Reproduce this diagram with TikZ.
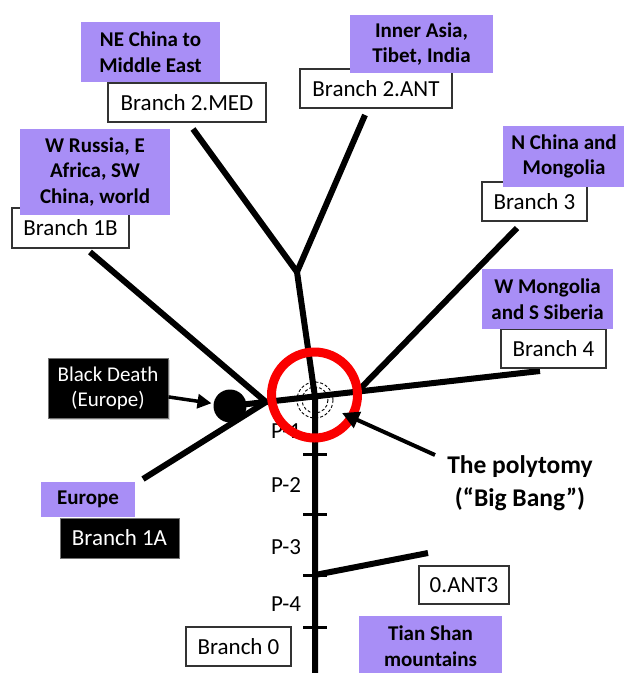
\documentclass[tikz,border=0pt]{standalone}
\usepackage{fontspec}
\setmainfont{Carlito}
\usetikzlibrary{arrows.meta,shadows}
\definecolor{lav}{RGB}{168,142,246}
\definecolor{polyred}{RGB}{250,0,0}
\begin{document}
\begin{tikzpicture}[x=1pt,y=-1pt,
  region/.style={fill=lav, inner sep=0pt, align=center, font=\fontsize{21}{25.5}\selectfont\bfseries},
  wbox/.style={draw=black!80, line width=1.2pt, fill=white, inner sep=0pt, minimum height=39pt, font=\fontsize{23}{25}\selectfont},
  bbox/.style={fill=black, draw=black!55, line width=1pt, text=white, inner sep=0pt, align=center, font=\fontsize{21}{25}\selectfont},
  limb/.style={line width=6pt, line join=round},
  tickmark/.style={line width=3pt},
  plab/.style={font=\fontsize{23}{25}\selectfont},
  pointer/.style={line width=4pt, -{Triangle[length=17pt,width=17pt]}}
]
\useasboundingbox (0,0) rectangle (624,673);
\clip (0,0) rectangle (624,673);

% tree points
\coordinate (P) at (315,397);
\coordinate (F) at (297,272);
\coordinate (B) at (315,690);
\coordinate (med) at (193,129);
\coordinate (ant) at (365,115);
\coordinate (oneB) at (90,252);
\coordinate (J) at (266,402);
\coordinate (oneA) at (143,479);
\coordinate (D) at (230,406);
\coordinate (b4) at (540,371);
\coordinate (K) at (357,392);
\coordinate (b3) at (517,228);
\coordinate (t1) at (315,454);
\coordinate (t2) at (315,514);
\coordinate (t3) at (315,575);
\coordinate (t4) at (315,627);
\coordinate (a3) at (428,553);

% tree
\draw[limb] (B) -- (P) -- (F);
\draw[limb] (med) -- (F) -- (ant);
\draw[limb] (D) -- (b4);
\draw[limb] (oneB) -- (J) -- (oneA);
\draw[limb] (K) -- (b3);
\draw[limb] (t3) -- (a3);
\foreach \t in {t1,t2,t3,t4}{
  \draw[tickmark] ([xshift=-12pt]\t) -- ([xshift=12pt]\t);
}

% white boxes
\node[wbox, minimum width=158pt] (b2med) at (187,102.5) {Branch 2.MED};
\node[wbox, minimum width=152pt] (b2ant) at (376,88.5) {Branch 2.ANT};
\node[wbox, minimum width=117pt, minimum height=40pt] (b1b) at (70.5,228) {Branch 1B};
\node[wbox, minimum width=105pt] (b3box) at (534.5,201.5) {Branch 3};
\node[wbox, minimum width=105pt] (b4box) at (553.5,348.5) {Branch 4};
\node[wbox, minimum width=90pt, minimum height=38pt] (ant3) at (464,585) {0.ANT3};
\node[wbox, minimum width=105pt] (b0) at (238.5,646.5) {Branch 0};

% purple regions
\node[region, minimum width=139pt, minimum height=60pt] (rne) at (150.5,52) {NE China to\\Middle East};
\node[region, minimum width=150pt, minimum height=86pt] (rwr) at (95,172) {W Russia, E\\Africa, SW\\China, world};
\node[region, minimum width=143pt, minimum height=58pt] (ria) at (421.5,44) {Inner Asia,\\Tibet, India};
\node[region, minimum width=122pt, minimum height=61pt] (rnc) at (564,156.5) {N China and\\Mongolia};
\node[region, minimum width=131pt, minimum height=60pt] (rwm) at (547.5,299) {W Mongolia\\and S Siberia};
\node[region, minimum width=94pt, minimum height=35pt] (reu) at (88,499.5) {Europe};
\node[region, minimum width=143pt, minimum height=60pt] (rts) at (430.5,646) {Tian Shan\\mountains};

% black boxes
\node[bbox, minimum width=120pt, minimum height=60pt, drop shadow={opacity=0.35, shadow xshift=2pt, shadow yshift=-2pt}] (bd) at (108,388) {Black Death\\(Europe)};
\node[bbox, minimum width=119pt, minimum height=40pt, font=\fontsize{23}{25}\selectfont] (b1a) at (119.5,538) {Branch 1A};

% dot
\node[circle, fill=black, minimum size=33pt, inner sep=0pt] (dot) at (D) {};

% P labels
\node[plab] (p1) at (286,431) {P-1};
\node[plab] (p2) at (286,485) {P-2};
\node[plab] (p3) at (286,547) {P-3};
\node[plab] (p4) at (286,604) {P-4};

% polytomy marks
\coordinate (pc) at (315,400);
\draw[line width=0.9pt, dash pattern=on 3pt off 2pt] (pc) circle[radius=18];
\draw[line width=0.9pt, dash pattern=on 3pt off 2pt] (pc) circle[radius=13];
\coordinate (rc) at (314.5,395);
\draw[polyred, line width=9pt] (rc) circle[radius=43];

% arrows and text
\draw[line width=3.5pt, -{Triangle[length=14pt,width=14pt]}, shorten >=2pt] (bd) -- (dot);
\node[font=\fontsize{25.5}{33}\selectfont\bfseries, align=center] (poly) at (520,483) {The polytomy\\(“Big Bang”)};
\coordinate (ptail) at (435,455);
\coordinate (ptip) at (342,413);
\draw[pointer] (ptail) -- (ptip);
\end{tikzpicture}
\end{document}
